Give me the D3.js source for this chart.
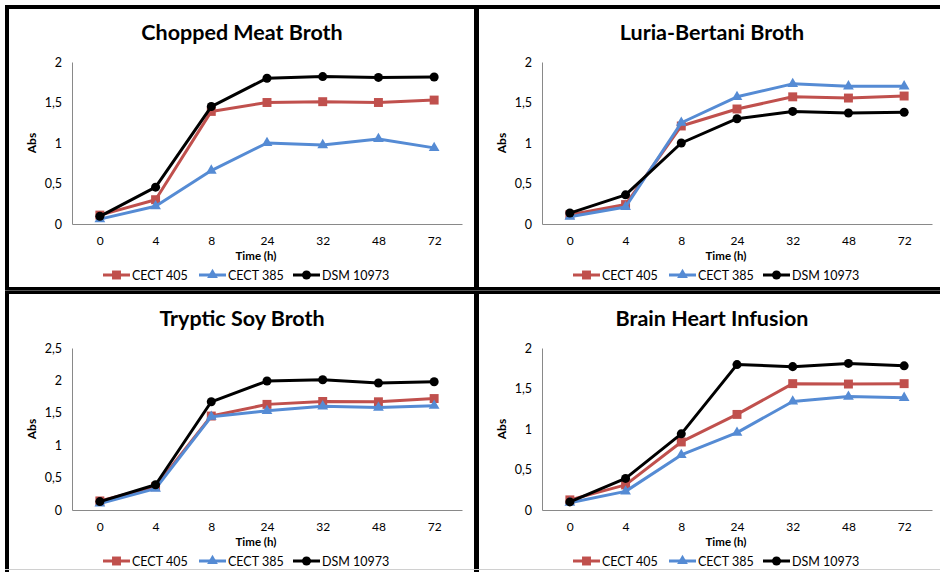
<!DOCTYPE html>
<html>
<head>
<meta charset="utf-8">
<script src="https://cdn.jsdelivr.net/npm/d3@7"></script>
<style>
  html, body { margin: 0; padding: 0; background: #fff; }
  svg { display: block; }
</style>
</head>
<body>
<svg id="chart" width="940" height="572"></svg>
<script>
// ---------- data ----------
const timeLabels = ["0", "4", "8", "24", "32", "48", "72"];
const seriesNames = ["CECT 405", "CECT 385", "DSM 10973"];

const titles = ["Chopped Meat Broth", "Luria-Bertani Broth", "Tryptic Soy Broth", "Brain Heart Infusion"];
const yMaxes = [2, 2, 2.5, 2];

// Chopped Meat Broth
const cmbCECT405 = [0.11, 0.30, 1.39, 1.50, 1.51, 1.50, 1.53];
const cmbCECT385 = [0.06, 0.22, 0.66, 1.00, 0.975, 1.05, 0.94];
const cmbDSM10973 = [0.095, 0.455, 1.45, 1.80, 1.82, 1.81, 1.815];

// Luria-Bertani Broth
const lbCECT405 = [0.115, 0.24, 1.21, 1.42, 1.57, 1.555, 1.58];
const lbCECT385 = [0.09, 0.21, 1.25, 1.57, 1.73, 1.70, 1.70];
const lbDSM10973 = [0.135, 0.36, 1.00, 1.30, 1.39, 1.37, 1.38];

// Tryptic Soy Broth
const tsbCECT405 = [0.14, 0.36, 1.45, 1.63, 1.675, 1.67, 1.72];
const tsbCECT385 = [0.10, 0.33, 1.44, 1.53, 1.60, 1.58, 1.61];
const tsbDSM10973 = [0.13, 0.39, 1.67, 1.99, 2.01, 1.96, 1.98];

// Brain Heart Infusion
const bhiCECT405 = [0.125, 0.31, 0.84, 1.18, 1.56, 1.555, 1.56];
const bhiCECT385 = [0.09, 0.23, 0.68, 0.955, 1.34, 1.40, 1.385];
const bhiDSM10973 = [0.10, 0.39, 0.94, 1.795, 1.77, 1.81, 1.78];

const panelData = [
  [cmbCECT405, cmbCECT385, cmbDSM10973],
  [lbCECT405, lbCECT385, lbDSM10973],
  [tsbCECT405, tsbCECT385, tsbDSM10973],
  [bhiCECT405, bhiCECT385, bhiDSM10973]
];

// ---------- style ----------
const colors = ["#C0504D", "#558BD4", "#000000"];
const markers = [d3.symbolSquare, d3.symbolTriangle, d3.symbolCircle];
const markerSizes = [80, 50, 64];
const FONT = "Lato, 'Open Sans', sans-serif";

const svg = d3.select("#chart");
const origins = [[0, 0], [470, 0], [0, 286], [470, 286]];

const plotLeft = 72, plotRight = 462, plotTop = 62, plotBottom = 224;

origins.forEach((o, pi) => {
  const g = svg.append("g").attr("transform", `translate(${o[0]},${o[1]})`);

  const x = d3.scalePoint().domain(timeLabels).range([plotLeft, plotRight]).padding(0.5);
  const y = d3.scaleLinear().domain([0, yMaxes[pi]]).range([plotBottom, plotTop]);

  // title
  g.append("text")
    .attr("x", (plotLeft + plotRight) / 2 - 25)
    .attr("y", 40)
    .attr("text-anchor", "middle")
    .attr("font-family", FONT)
    .attr("font-weight", "bold")
    .attr("font-size", 21.5)
    .attr("fill", "#000")
    .text(titles[pi]);

  // y axis
  const yTicks = d3.range(0, yMaxes[pi] + 0.001, 0.5);
  const yAxis = d3.axisLeft(y).tickValues(yTicks).tickSize(0).tickPadding(10)
    .tickFormat(d => String(d).replace(".", ","));
  const ya = g.append("g").attr("transform", `translate(${plotLeft},0)`).call(yAxis);
  ya.select(".domain").attr("stroke", "#898989").attr("stroke-width", 1);
  ya.selectAll("text").attr("font-family", FONT).attr("font-size", 12.5).attr("fill", "#000");

  // x axis
  const xAxis = d3.axisBottom(x).tickSize(0).tickPadding(12);
  const xa = g.append("g").attr("transform", `translate(0,${plotBottom})`).call(xAxis);
  xa.select(".domain").attr("stroke", "#898989").attr("stroke-width", 1);
  xa.selectAll("text").attr("font-family", FONT).attr("font-size", 12).attr("fill", "#000");

  // axis titles
  g.append("text")
    .attr("x", (plotLeft + plotRight) / 2 - 11)
    .attr("y", 259.5)
    .attr("text-anchor", "middle")
    .attr("font-family", FONT).attr("font-weight", "bold").attr("font-size", 11.5)
    .text("Time (h)");
  g.append("text")
    .attr("transform", `translate(36,${(plotTop + plotBottom) / 2}) rotate(-90)`)
    .attr("text-anchor", "middle")
    .attr("font-family", FONT).attr("font-weight", "bold").attr("font-size", 12)
    .text("Abs");

  // series
  const line = d3.line().x((d, i) => x(timeLabels[i])).y(d => y(d));
  panelData[pi].forEach((vals, si) => {
    g.append("path")
      .attr("d", line(vals))
      .attr("fill", "none")
      .attr("stroke", colors[si])
      .attr("stroke-width", 3)
      .attr("stroke-linejoin", "round");
    g.selectAll(null).data(vals).enter().append("path")
      .attr("d", d3.symbol().type(markers[si]).size(markerSizes[si]))
      .attr("transform", (d, i) => `translate(${x(timeLabels[i])},${y(d)})`)
      .attr("fill", colors[si]);
  });

  // legend
  const legendX = [103, 199, 293];
  const leg = g.append("g").attr("transform", "translate(0,275)");
  seriesNames.forEach((name, si) => {
    const lx = legendX[si];
    leg.append("line")
      .attr("x1", lx).attr("x2", lx + 27).attr("y1", 0).attr("y2", 0)
      .attr("stroke", colors[si]).attr("stroke-width", 3);
    leg.append("path")
      .attr("d", d3.symbol().type(markers[si]).size(markerSizes[si]))
      .attr("transform", `translate(${lx + 13.5},0)`)
      .attr("fill", colors[si]);
    leg.append("text")
      .attr("x", lx + 29).attr("y", 4.5)
      .attr("font-family", FONT).attr("font-size", 12.5)
      .text(name);
  });
});

// ---------- panel borders ----------
const bord = svg.append("g").attr("fill", "#000");
bord.append("rect").attr("x", 5).attr("y", 5).attr("width", 935).attr("height", 4);
bord.append("rect").attr("x", 5).attr("y", 5).attr("width", 4).attr("height", 567);
bord.append("rect").attr("x", 474).attr("y", 5).attr("width", 5).attr("height", 567);
bord.append("rect").attr("x", 5).attr("y", 287).attr("width", 935).attr("height", 3);
bord.append("rect").attr("x", 5).attr("y", 291).attr("width", 935).attr("height", 3);
bord.append("rect").attr("x", 5).attr("y", 290).attr("width", 935).attr("height", 1).attr("fill", "#555");
bord.append("rect").attr("x", 5).attr("y", 569).attr("width", 935).attr("height", 1).attr("fill", "#d0d0d0");
</script>
</body>
</html>
